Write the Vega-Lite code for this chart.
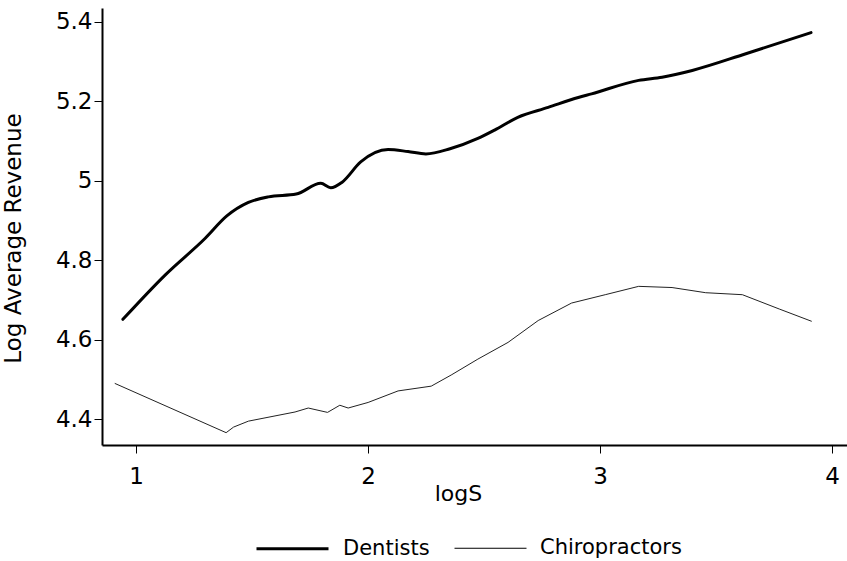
{
  "$schema": "https://vega.github.io/schema/vega-lite/v6.json",
  "autosize": "none",
  "padding": {"left": 102, "top": 8, "right": 0, "bottom": 116},
  "width": 745,
  "height": 437,
  "background": "white",
  "config": {
    "view": {"stroke": null},
    "font": "DejaVu Sans"
  },
  "data": {
    "values": [
      {"logS": 0.943, "rev": 4.651, "group": "Dentists"},
      {"logS": 1.126, "rev": 4.763, "group": "Dentists"},
      {"logS": 1.298, "rev": 4.855, "group": "Dentists"},
      {"logS": 1.391, "rev": 4.911, "group": "Dentists"},
      {"logS": 1.484, "rev": 4.945, "group": "Dentists"},
      {"logS": 1.570, "rev": 4.959, "group": "Dentists"},
      {"logS": 1.690, "rev": 4.966, "group": "Dentists"},
      {"logS": 1.796, "rev": 4.993, "group": "Dentists"},
      {"logS": 1.839, "rev": 4.982, "group": "Dentists"},
      {"logS": 1.888, "rev": 4.996, "group": "Dentists"},
      {"logS": 1.968, "rev": 5.047, "group": "Dentists"},
      {"logS": 2.086, "rev": 5.078, "group": "Dentists"},
      {"logS": 2.172, "rev": 5.073, "group": "Dentists"},
      {"logS": 2.249, "rev": 5.067, "group": "Dentists"},
      {"logS": 2.353, "rev": 5.080, "group": "Dentists"},
      {"logS": 2.473, "rev": 5.106, "group": "Dentists"},
      {"logS": 2.545, "rev": 5.127, "group": "Dentists"},
      {"logS": 2.645, "rev": 5.159, "group": "Dentists"},
      {"logS": 2.776, "rev": 5.184, "group": "Dentists"},
      {"logS": 2.906, "rev": 5.209, "group": "Dentists"},
      {"logS": 2.963, "rev": 5.218, "group": "Dentists"},
      {"logS": 3.166, "rev": 5.252, "group": "Dentists"},
      {"logS": 3.267, "rev": 5.260, "group": "Dentists"},
      {"logS": 3.397, "rev": 5.277, "group": "Dentists"},
      {"logS": 3.628, "rev": 5.319, "group": "Dentists"},
      {"logS": 3.909, "rev": 5.372, "group": "Dentists"},
      {"logS": 0.908, "rev": 4.490, "group": "Chiropractors"},
      {"logS": 1.388, "rev": 4.366, "group": "Chiropractors"},
      {"logS": 1.420, "rev": 4.380, "group": "Chiropractors"},
      {"logS": 1.484, "rev": 4.395, "group": "Chiropractors"},
      {"logS": 1.685, "rev": 4.418, "group": "Chiropractors"},
      {"logS": 1.742, "rev": 4.428, "group": "Chiropractors"},
      {"logS": 1.825, "rev": 4.417, "group": "Chiropractors"},
      {"logS": 1.878, "rev": 4.435, "group": "Chiropractors"},
      {"logS": 1.914, "rev": 4.428, "group": "Chiropractors"},
      {"logS": 2.000, "rev": 4.442, "group": "Chiropractors"},
      {"logS": 2.129, "rev": 4.471, "group": "Chiropractors"},
      {"logS": 2.272, "rev": 4.483, "group": "Chiropractors"},
      {"logS": 2.358, "rev": 4.511, "group": "Chiropractors"},
      {"logS": 2.473, "rev": 4.551, "group": "Chiropractors"},
      {"logS": 2.603, "rev": 4.593, "group": "Chiropractors"},
      {"logS": 2.733, "rev": 4.648, "group": "Chiropractors"},
      {"logS": 2.877, "rev": 4.692, "group": "Chiropractors"},
      {"logS": 3.022, "rev": 4.713, "group": "Chiropractors"},
      {"logS": 3.166, "rev": 4.734, "group": "Chiropractors"},
      {"logS": 3.310, "rev": 4.731, "group": "Chiropractors"},
      {"logS": 3.455, "rev": 4.718, "group": "Chiropractors"},
      {"logS": 3.613, "rev": 4.713, "group": "Chiropractors"},
      {"logS": 3.772, "rev": 4.677, "group": "Chiropractors"},
      {"logS": 3.912, "rev": 4.646, "group": "Chiropractors"}
    ]
  },
  "encoding": {
    "x": {
      "field": "logS", "type": "quantitative",
      "scale": {"domain": [0.853, 4.064], "nice": false, "zero": false},
      "axis": {
        "title": "logS", "values": [1, 2, 3, 4], "format": "d",
        "grid": false, "domainColor": "black", "domainWidth": 2,
        "tickColor": "black", "tickSize": 8, "tickWidth": 1,
        "labelFont": "DejaVu Sans", "labelFontSize": 23, "labelColor": "black", "labelPadding": 12,
        "titleFont": "DejaVu Sans", "titleFontSize": 22, "titleFontWeight": "normal", "titleColor": "black",
        "titleX": 356, "titleY": 55, "titleAlign": "center", "titleBaseline": "alphabetic"
      }
    },
    "y": {
      "field": "rev", "type": "quantitative",
      "scale": {"domain": [4.335, 5.434], "nice": false, "zero": false},
      "axis": {
        "title": "Log Average Revenue", "values": [4.4, 4.6, 4.8, 5, 5.2, 5.4], "format": "~g",
        "grid": false, "domainColor": "black", "domainWidth": 2,
        "tickColor": "black", "tickSize": 8, "tickWidth": 1,
        "labelFont": "DejaVu Sans", "labelFontSize": 23, "labelColor": "black", "labelPadding": 2,
        "titleFont": "DejaVu Sans", "titleFontSize": 23, "titleFontWeight": "normal", "titleColor": "black",
        "titleX": -77, "titleY": 230, "titleAlign": "center", "titleAngle": -90
      }
    },
    "strokeWidth": {
      "field": "group", "type": "nominal",
      "scale": {"domain": ["Dentists", "Chiropractors"], "range": [3, 1]},
      "legend": {
        "title": null, "orient": "none", "direction": "horizontal",
        "legendX": 153, "legendY": 503,
        "symbolType": "stroke", "symbolSize": 5184, "symbolStrokeColor": "black",
        "labelFont": "DejaVu Sans", "labelFontSize": 21, "labelColor": "black",
        "labelOffset": 13, "columnPadding": 22, "padding": 0
      }
    }
  },
  "layer": [
    {
      "transform": [{"filter": "datum.group === 'Dentists'"}],
      "mark": {"type": "line", "interpolate": "monotone", "color": "black", "strokeCap": "round"}
    },
    {
      "transform": [{"filter": "datum.group === 'Chiropractors'"}],
      "mark": {"type": "line", "interpolate": "linear", "color": "#222222"}
    }
  ]
}
